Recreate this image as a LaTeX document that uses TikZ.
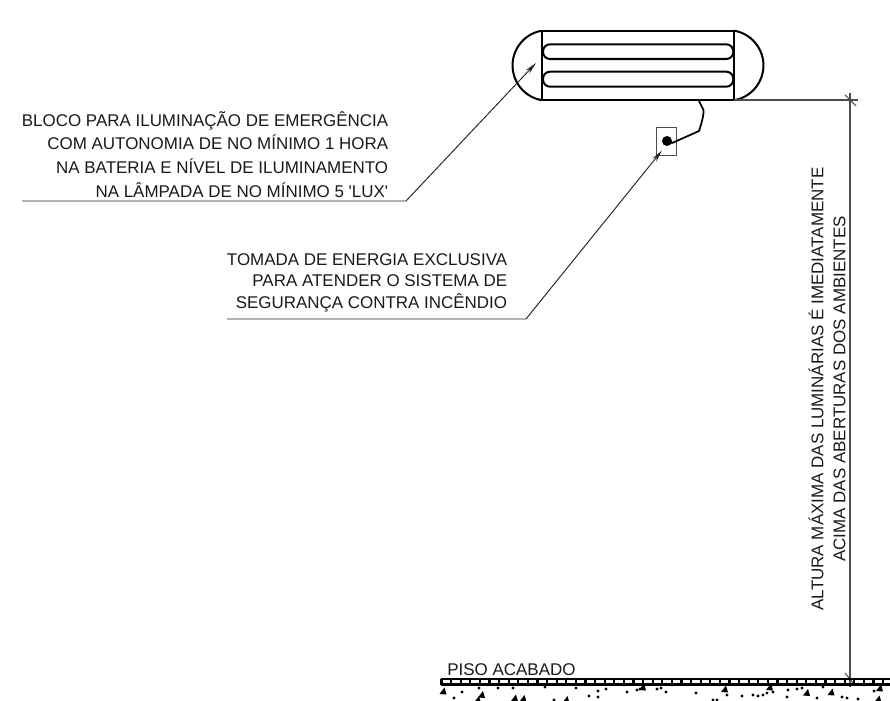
\documentclass[tikz,border=0pt]{standalone}
\usepackage{fontspec}
\setmainfont{Liberation Sans}
\usetikzlibrary{arrows.meta}
\tikzset{
	heavy/.style={black, line width=1.15pt},
	medium/.style={black!70, line width=0.6pt},
	leader/.style={black!85, line width=0.55pt},
	leadertip/.style={-{Stealth[length=7pt,width=2.8pt]}},
	note/.style={font=\fontsize{9.65}{#1}\selectfont, text=black!90},
	note/.default=12.5
}
\begin{document}
\begin{tikzpicture}[x=0.2mm,y=0.2mm]
	\tikzstyle{every node}+=[inner sep=0pt]
	\useasboundingbox (0,0) rectangle (890,-701);
	\draw [heavy] (541.7,-30.7) rectangle (734.3,-100);
	\draw [heavy] (541.7,-30.7) arc (100:260:35.3);
	\draw [heavy] (734.3,-30.7) arc (80:-80:35.3);
	\draw [heavy, rounded corners=4pt] (543,-44.3) rectangle (733.3,-59);
	\draw [heavy, rounded corners=4pt] (543,-71.7) rectangle (733.3,-86.7);
	\draw [medium] (656.7,-127.3) rectangle (676.7,-155.3);
	\coordinate (plug) at (667,-141);
	\coordinate (lampwire) at (698.5,-100);
	\fill [black] (plug) circle (5);
	\draw [black, line width=1pt, line join=round] (plug) -- (672,-143) -- (680,-139.5) -- (699,-131) .. controls (701,-125) and (704,-115) .. (703.5,-110) -- (lampwire);
	\coordinate (blocoleft) at (22,-201);
	\coordinate (blocobend) at (406,-201);
	\coordinate (blocotip) at (536,-63);
	\draw [leader, leadertip] (blocoleft) -- (blocobend) -- (blocotip);
	\node (bloco) [note=13.45, align=right, anchor=north east] at (388.5,-111) {BLOCO PARA ILUMINAÇÃO DE EMERGÊNCIA\\COM AUTONOMIA DE NO MÍNIMO 1 HORA\\NA BATERIA E NÍVEL DE ILUMINAMENTO\\NA LÂMPADA DE NO MÍNIMO 5 \textquotesingle LUX\textquotesingle};
	\coordinate (tomadaleft) at (227,-319);
	\coordinate (tomadabend) at (526,-319);
	\coordinate (tomadatip) at (662,-150.5);
	\draw [leader, leadertip] (tomadaleft) -- (tomadabend) -- (tomadatip);
	\node (tomada) [note=12.2, align=right, anchor=north east] at (507.5,-253) {TOMADA DE ENERGIA EXCLUSIVA\\PARA ATENDER O SISTEMA DE\\SEGURANÇA CONTRA INCÊNDIO};
	\coordinate (dimfrom) at (734.3,-100);
	\coordinate (dimto) at (858,-100);
	\coordinate (dimtop) at (850,-93);
	\coordinate (dimbottom) at (850,-687);
	\draw [medium] (dimfrom) -- (dimto);
	\draw [medium] (dimtop) -- (dimbottom);
	\draw [medium] (845,-95) -- (856,-106);
	\draw [medium] (845,-673) -- (854,-684);
	\node (altura) [note=12.5, align=center, rotate=90] at (827,-389) {ALTURA MÁXIMA DAS LUMINÁRIAS É IMEDIATAMENTE\\ACIMA DAS ABERTURAS DOS AMBIENTES};
	\node (piso) [note, anchor=base west] at (447,-675) {PISO ACABADO};
	\draw [black, line width=1.3pt] (441,-679) -- (890,-679);
	\draw [black, line width=1.3pt] (441,-684.5) -- (890,-684.5);
	\foreach \x in {0,...,47}
		\draw [black, line width=1.2pt] (441.5+9.6*\x,-679) -- (441.5+9.6*\x,-684.5);
	\foreach \x/\y in {462/692,454/698,479/688,498/688,513/688,545/687,576/688,554/700,589/696,598/691,606/689,598/697,627/692,637/690,640/689,657/689,661/688,666/692,696/693,727/695,742/696,753/695,758/696,763/695,767/693,773/692,788/690,797/689,802/688,787/697,817/698,842/697,847/698,858/699,874/691,713/700,717/700,823/687}
		\fill [black] (\x,-\y) circle (1.6);
	\foreach \x/\y in {443.5/691,482/694.5,478/699.5,523.5/698.5,515/698,566.5/699.5,725/689,807/692.5,831.5/692,880/688,878.5/699,643/687,770/687}
		\fill [black] (\x-4,-\y-3) -- (\x+3,-\y-3.5) -- (\x+1,-\y+3.5) -- cycle;
\end{tikzpicture}
\end{document}
